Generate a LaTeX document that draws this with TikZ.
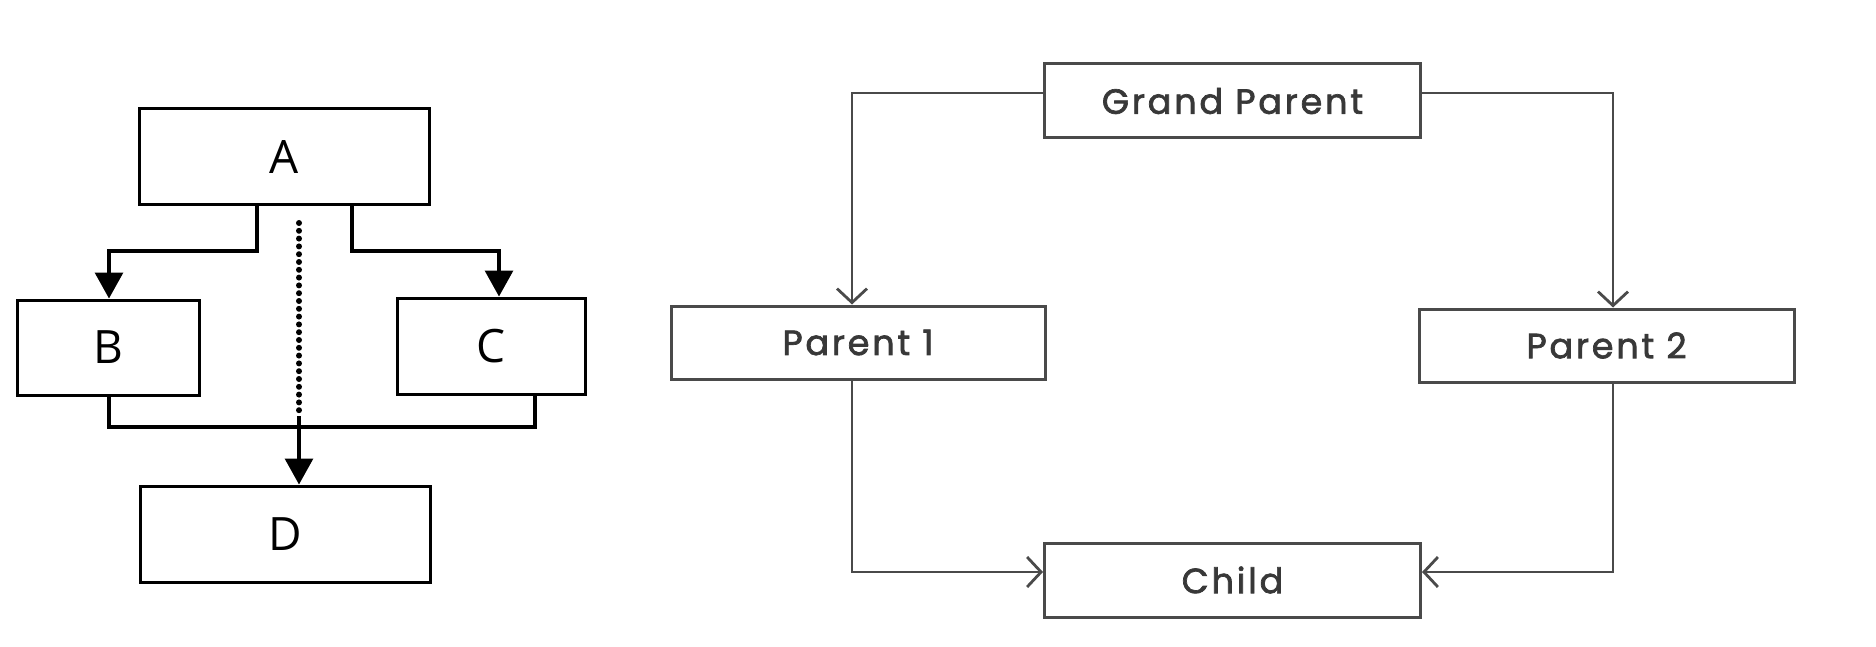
\documentclass[tikz,border=0pt]{standalone}
\usepackage{fontspec}
\usetikzlibrary{arrows.meta}
\newfontfamily\boxletter{Open Sans}
\newfontfamily\famfont{Poppins}[FakeBold=2, LetterSpace=8]
\definecolor{famline}{HTML}{4A4A4A}
\definecolor{famtext}{HTML}{383838}
\begin{document}
\begin{tikzpicture}[x=1pt,y=-1pt,
  lbox/.style={draw=black, line width=3pt, inner sep=0pt, font=\boxletter\fontsize{46}{46}\selectfont},
  fbox/.style={draw=famline, line width=3pt, inner sep=0pt, minimum width=376pt, minimum height=74pt,
    text=famtext, font=\famfont\fontsize{35}{35}\selectfont},
  solidarrow/.style={draw=black, line width=3.2pt, -{Triangle[length=26pt,width=28pt]}},
  joinline/.style={draw=black, line width=3.2pt},
  dotline/.style={draw=black, line width=6pt, line cap=round, dash pattern=on 0pt off 7.8pt},
  famarrow/.style={draw=famline, line width=2.8pt, line join=miter,
    -{Straight Barb[length=14pt,width=30pt,line width=2.8pt]}}
]
\useasboundingbox (0,0) rectangle (1876,647);

% ---- left flow: A splits to B and C, both join into D ----
\node[lbox, minimum width=290pt, minimum height=96pt] (A) at (284,157) {A};
\node[lbox, minimum width=182pt, minimum height=95pt] (B) at (108,347.5) {B};
\node[lbox, minimum width=188pt, minimum height=96pt] (C) at (491,346) {C};
\node[lbox, minimum width=290pt, minimum height=96pt] (D) at (285,534) {D};

\coordinate (ab) at (257,251);
\coordinate (bx) at (109,0);
\coordinate (ac) at (352,251);
\coordinate (cx) at (499,0);
\coordinate (cj) at (535,0);
\coordinate (join) at (299,427);
\coordinate (dotstart) at (299,223);
\coordinate (dotend) at (299,416);

\draw[solidarrow] (ab |- A.south) -- (ab) -| (bx |- B.north);
\draw[solidarrow] (ac |- A.south) -- (ac) -| (cx |- C.north);
\draw[joinline] (bx |- B.south) |- (join) -| (cj |- C.south);
\draw[dotline] (dotstart) -- (dotend);
\draw[solidarrow] (join |- dotend) -- (join |- D.north);

% ---- right family tree ----
\node[fbox] (GP) at (1232.5,101) {Grand Parent};
\node[fbox, minimum width=374pt, minimum height=73pt] (P1) at (858,342.5) {Parent 1};
\node[fbox, minimum width=375pt, minimum height=73pt] (P2) at (1606.5,345.5) {Parent 2};
\node[fbox] (CH) at (1232.5,580) {Child};

\draw[famarrow] ([yshift=8pt]GP.west) -| ([xshift=-6pt]P1.north);
\draw[famarrow] ([yshift=8pt]GP.east) -| ([xshift=6.5pt]P2.north);
\draw[famarrow] ([xshift=-6pt]P1.south) |- ([yshift=8pt]CH.west);
\draw[famarrow] ([xshift=6.5pt]P2.south) |- ([yshift=8pt]CH.east);
\end{tikzpicture}
\end{document}
